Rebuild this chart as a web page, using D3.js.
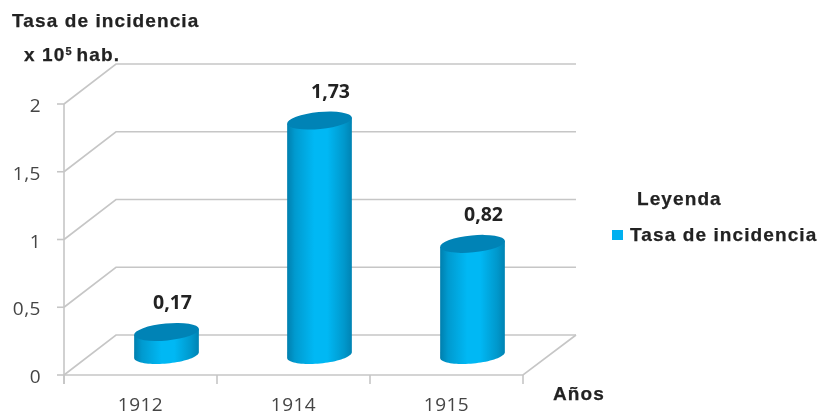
<!DOCTYPE html>
<html><head><meta charset="utf-8">
<script src="https://cdn.jsdelivr.net/npm/d3@7"></script>
<style>
html,body{margin:0;padding:0;background:#fff}
svg{display:block}
text{font-family:"Liberation Sans",Arial,sans-serif;fill:#222}
.num{font-family:"Open Sans",sans-serif;fill:#444;font-size:19px;letter-spacing:.5px}
.lbl{font-family:"Open Sans",sans-serif;font-weight:700;fill:#222;font-size:19.5px}
.b{font-weight:700;font-size:19px;letter-spacing:1.1px;stroke:#222;stroke-width:.25px}
</style></head><body>
<script>
const categories = ["1912", "1914", "1915"];
const values = [0.17, 1.73, 0.82];
const valueLabels = ["0,17", "1,73", "0,82"];
const yTicks = [0, 0.5, 1, 1.5, 2];
const yTickLabels = ["0", "0,5", "1", "1,5", "2"];
const seriesName = "Tasa de incidencia";

const W = 821, H = 417;
const svg = d3.select("body").append("svg").attr("width", W).attr("height", H);
const defs = svg.append("defs");
const soft = defs.append("filter").attr("id", "soft").attr("filterUnits", "userSpaceOnUse")
  .attr("x", 0).attr("y", 0).attr("width", W).attr("height", H);
soft.append("feGaussianBlur").attr("stdDeviation", 0.55);
const grad = defs.append("linearGradient").attr("id", "cyl").attr("x1", 0).attr("x2", 1).attr("y1", 0).attr("y2", 0);
[[0, "#007fae"], [0.12, "#009acf"], [0.42, "#00b8f4"], [0.62, "#00b8f4"], [0.88, "#0098cc"], [1, "#0083b3"]]
  .forEach(([o, c]) => grad.append("stop").attr("offset", o).attr("stop-color", c));

const root = svg.append("g").attr("filter", "url(#soft)");

const x = d3.scaleBand().domain(categories).range([64, 523]);
const y = d3.scaleLinear().domain([0, 2]).range([375, 104]);
const dx = 52, dy = -40;
const gridColor = "#c6c6c6";

const grid = root.append("g").attr("fill", "none").attr("stroke", gridColor).attr("stroke-width", 1.6);
yTicks.forEach(t => {
  grid.append("path").attr("d", `M${x.range()[0]},${y(t)}L${x.range()[0] + dx},${y(t) + dy}H${x.range()[1] + dx + 1}`);
});
grid.append("path").attr("d", `M${x.range()[0]},${y(0)}H${x.range()[1]}L${x.range()[1] + dx + 1},${y(0) + dy}`);
grid.append("path").attr("d", `M${x.range()[0]},${y(2)}V${y(0) + 9}`);
yTicks.forEach(t => grid.append("path").attr("d", `M${x.range()[0] - 7},${y(t)}H${x.range()[0]}`));
d3.range(categories.length + 1).forEach(i => {
  const px = x.range()[0] + i * x.bandwidth();
  grid.append("path").attr("d", `M${px},${y(0)}V${y(0) + 9}`);
});

root.append("g").selectAll("text").data(yTicks).join("text")
  .attr("class", "num").attr("text-anchor", "end")
  .attr("x", 41).attr("y", d => y(d) + 8)
  .text((d, i) => yTickLabels[i]);

root.append("g").selectAll("text").data(categories).join("text")
  .attr("class", "num").attr("text-anchor", "middle")
  .attr("x", d => x(d) + x.bandwidth() / 2).attr("y", 411)
  .text(d => d);

// cylinders
const rx = 32.5, ry = 8.5, tilt = -5.5, baseY = y(0) - 20, shift = 26;
const rad = tilt * Math.PI / 180;
const ellipsePoint = t => [
  rx * Math.cos(t) * Math.cos(rad) - ry * Math.sin(t) * Math.sin(rad),
  rx * Math.cos(t) * Math.sin(rad) + ry * Math.sin(t) * Math.cos(rad)
];
const lowerHalf = d3.range(0, 41).map(i => ellipsePoint(Math.PI * (1 - i / 40)));
const lineGen = d3.line();
const bars = root.append("g").selectAll("g").data(values).join("g")
  .attr("transform", (d, i) => `translate(${x(categories[i]) + x.bandwidth() / 2 + shift},0)`);
bars.append("path").attr("fill", "url(#cyl)").attr("d", d => {
  const top = baseY - (y(0) - y(d));
  const first = lowerHalf[0], last = lowerHalf[lowerHalf.length - 1];
  const pts = [[first[0], top + first[1]]]
    .concat(lowerHalf.map(p => [p[0], baseY + p[1]]))
    .concat([[last[0], top + last[1]]]);
  return lineGen(pts) + "Z";
});
bars.append("ellipse").attr("fill", "#0083b6")
  .attr("rx", rx).attr("ry", ry)
  .attr("transform", d => `translate(0,${baseY - (y(0) - y(d))}) rotate(${tilt})`);

bars.append("text").attr("class", "lbl").attr("text-anchor", "middle")
  .attr("x", (d, i) => i === 0 ? 6 : 11).attr("y", d => baseY - (y(0) - y(d)) - 23)
  .text((d, i) => valueLabels[i]);

root.append("text").attr("class", "b").attr("x", 12).attr("y", 27).text("Tasa de incidencia");
const t2 = root.append("text").attr("class", "b").attr("x", 24).attr("y", 61);
t2.append("tspan").text("x 10");
t2.append("tspan").attr("dy", -6).attr("font-size", 11).text("5");
t2.append("tspan").attr("dy", 6).attr("dx", 4).text("hab.");
root.append("text").attr("class", "b").attr("x", 553).attr("y", 400).text("Años");

root.append("text").attr("class", "b").attr("x", 637).attr("y", 205).text("Leyenda");
root.append("rect").attr("x", 612).attr("y", 230).attr("width", 11).attr("height", 10).attr("fill", "#00b0f0");
root.append("text").attr("class", "b").attr("x", 630).attr("y", 241).text(seriesName);
</script>
</body></html>
